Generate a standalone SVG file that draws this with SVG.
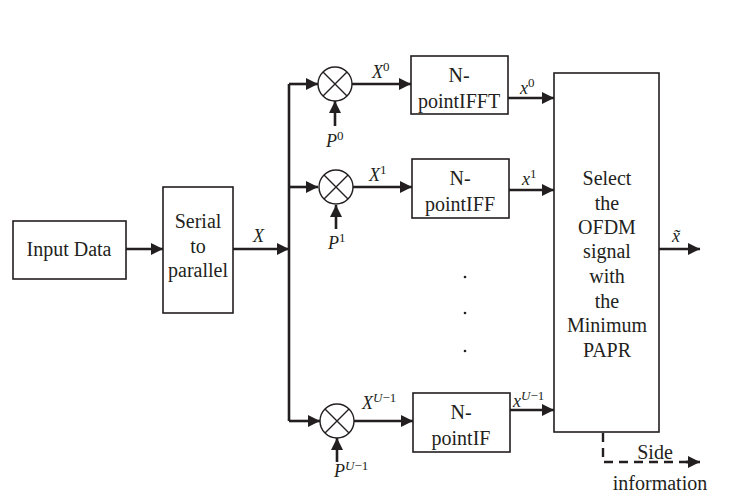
<svg xmlns="http://www.w3.org/2000/svg" width="734" height="498" viewBox="0 0 734 498">
<style>
.box{fill:#fff;stroke:#231f20;stroke-width:1.6}
.ln{fill:none;stroke:#231f20;stroke-width:2.6}
.dash{fill:none;stroke:#231f20;stroke-width:2.4;stroke-dasharray:9,6}
text{font-family:'Liberation Serif','Times New Roman','DejaVu Serif',serif;fill:#231f20}
.t{font-size:20px;text-anchor:middle}
.m{font-style:italic;font-size:18px}
.s{font-size:13px}
.mul{fill:#fff;stroke:#231f20;stroke-width:1.4}
</style>
<defs>
<marker id="ah" viewBox="0 0 12 12" refX="12" refY="6" markerWidth="12" markerHeight="12" markerUnits="userSpaceOnUse" orient="auto">
<path d="M0,0 L12,6 L0,12 Z" fill="#231f20"/>
</marker>
</defs>
<rect width="734" height="498" fill="#fff"/>
<g id="connectors">
<line class="ln" x1="126" y1="249" x2="163" y2="249" marker-end="url(#ah)"/>
<line class="ln" x1="233" y1="249" x2="289" y2="249" marker-end="url(#ah)"/>
<path class="ln" d="M289,84 V421"/>
<line class="ln" x1="289" y1="84" x2="318" y2="84" marker-end="url(#ah)"/>
<line class="ln" x1="289" y1="187" x2="318" y2="187" marker-end="url(#ah)"/>
<line class="ln" x1="289" y1="421" x2="320" y2="421" marker-end="url(#ah)"/>
<line class="ln" x1="352" y1="84" x2="411" y2="84" marker-end="url(#ah)"/>
<line class="ln" x1="352" y1="187" x2="412" y2="187" marker-end="url(#ah)"/>
<line class="ln" x1="354" y1="421" x2="413" y2="421" marker-end="url(#ah)"/>
<line class="ln" x1="335" y1="126" x2="335" y2="101" marker-end="url(#ah)"/>
<line class="ln" x1="336" y1="229" x2="336" y2="205" marker-end="url(#ah)"/>
<line class="ln" x1="337" y1="462" x2="337" y2="438" marker-end="url(#ah)"/>
<line class="ln" x1="508" y1="98" x2="554" y2="98" marker-end="url(#ah)"/>
<line class="ln" x1="509" y1="190" x2="554" y2="190" marker-end="url(#ah)"/>
<line class="ln" x1="510" y1="410" x2="554" y2="410" marker-end="url(#ah)"/>
<line class="ln" x1="659" y1="249" x2="700" y2="249" marker-end="url(#ah)"/>
<path class="dash" d="M603,433 V462 H688"/>
<line class="ln" x1="686" y1="462" x2="700" y2="462" marker-end="url(#ah)"/>
</g>
<g id="input">
<rect class="box" x="13" y="221" width="113" height="58"/>
<text class="t" x="69" y="256">Input Data</text>
</g>
<g id="s2p">
<rect class="box" x="163" y="187" width="70" height="126"/>
<text class="t" x="198" y="228">Serial</text>
<text class="t" x="198" y="253">to</text>
<text class="t" x="198" y="277">parallel</text>
</g>
<text id="lblX" class="m" x="253" y="242">X</text>
<g id="mul0">
<circle class="mul" cx="335" cy="84" r="17"/>
<path class="mul" d="M323,72 L347,96 M347,72 L323,96"/>
</g>
<g id="mul1">
<circle class="mul" cx="336" cy="187" r="17"/>
<path class="mul" d="M324,175 L348,199 M348,175 L324,199"/>
</g>
<g id="mulU">
<circle class="mul" cx="337" cy="421" r="17"/>
<path class="mul" d="M325,409 L349,433 M349,409 L325,433"/>
</g>
<text class="m" x="372" y="78">X<tspan class="s" dy="-7" font-style="normal">0</tspan></text>
<text class="m" x="369" y="181">X<tspan class="s" dy="-7" font-style="normal">1</tspan></text>
<text class="m" x="362" y="409">X<tspan class="s" dy="-7">U</tspan><tspan class="s" font-style="normal">−1</tspan></text>
<text class="m" x="326" y="147">P<tspan class="s" dy="-7" font-style="normal">0</tspan></text>
<text class="m" x="328" y="249">P<tspan class="s" dy="-7" font-style="normal">1</tspan></text>
<text class="m" x="334" y="477">P<tspan class="s" dy="-7">U</tspan><tspan class="s" font-style="normal">−1</tspan></text>
<g id="ifft0">
<rect class="box" x="411" y="56" width="97" height="58"/>
<text class="t" x="459" y="82">N-</text>
<text class="t" x="459" y="108">pointIFFT</text>
</g>
<g id="ifft1">
<rect class="box" x="412" y="159" width="97" height="59"/>
<text class="t" x="460" y="185">N-</text>
<text class="t" x="460" y="211">pointIFF</text>
</g>
<g id="ifftU">
<rect class="box" x="413" y="393" width="97" height="59"/>
<text class="t" x="461" y="419">N-</text>
<text class="t" x="461" y="445">pointIF</text>
</g>
<text class="m" x="520" y="94">x<tspan class="s" dy="-7" font-style="normal">0</tspan></text>
<text class="m" x="522" y="185">x<tspan class="s" dy="-7" font-style="normal">1</tspan></text>
<text class="m" x="513" y="407">x<tspan class="s" dy="-7">U</tspan><tspan class="s" font-style="normal">−1</tspan></text>
<g id="dots" fill="#231f20">
<circle cx="465" cy="277" r="1.3"/>
<circle cx="465" cy="313" r="1.3"/>
<circle cx="465" cy="351" r="1.3"/>
</g>
<g id="select">
<rect class="box" x="554" y="73" width="105" height="359"/>
<text class="t" x="607" y="185">Select</text>
<text class="t" x="607" y="210">the</text>
<text class="t" x="607" y="234">OFDM</text>
<text class="t" x="607" y="258">signal</text>
<text class="t" x="607" y="283">with</text>
<text class="t" x="607" y="308">the</text>
<text class="t" x="607" y="332">Minimum</text>
<text class="t" x="607" y="357">PAPR</text>
</g>
<text class="m" x="672" y="242">x̃</text>
<g id="side">
<text class="t" x="655" y="459">Side</text>
<text class="t" x="660" y="490">information</text>
</g>
</svg>
